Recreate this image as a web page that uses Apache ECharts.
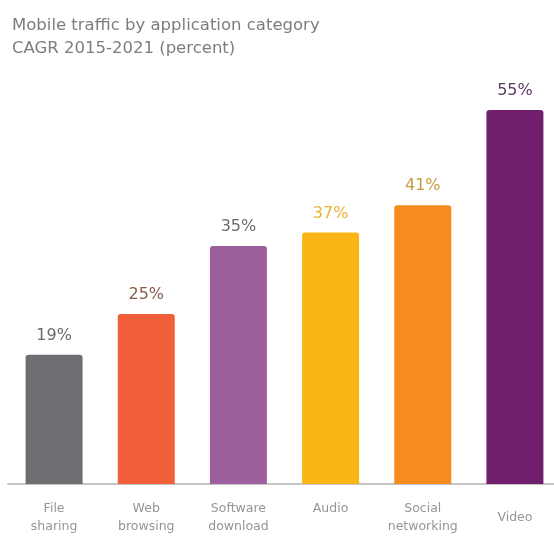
<!DOCTYPE html>
<html>
<head>
<meta charset="utf-8">
<script src="https://cdn.jsdelivr.net/npm/echarts@6/dist/echarts.min.js"></script>
<style>
html,body{margin:0;padding:0;background:#fff;}
#chart{width:554px;height:536px;}
</style>
</head>
<body>
<div id="chart"></div>
<script>
const categories = ['File\nsharing', 'Web\nbrowsing', 'Software\ndownload', 'Audio', 'Social\nnetworking', 'Video'];
const values = [19, 25, 35, 37, 41, 55];
const barColors = ['#6d6e71', '#f15f3a', '#9b5f9e', '#fbb615', '#f68b1f', '#6f1f6b'];
const labelColors = ['#6a6a6a', '#8a5a45', '#6a6a6a', '#e8b530', '#c99a40', '#5e3a62'];

const chart = echarts.init(document.getElementById('chart'));
chart.setOption({
  animation: false,
  backgroundColor: '#fff',
  title: {
    text: 'Mobile traffic by application category',
    subtext: 'CAGR 2015-2021 (percent)',
    left: 7,
    top: 12,
    itemGap: 6,
    textStyle: { fontFamily: 'DejaVu Sans', fontSize: 16.5, fontWeight: 'normal', color: '#7d7d7d' },
    subtextStyle: { fontFamily: 'DejaVu Sans', fontSize: 16.5, color: '#7d7d7d' }
  },
  grid: { left: 8, width: 553, top: 76, height: 408, containLabel: false, outerBoundsMode: 'none' },
  xAxis: {
    type: 'category',
    data: categories.map(c => c === 'Video'
      ? { value: c, textStyle: { padding: [9, 0, 0, 0] } } : c),
    axisLine: { lineStyle: { color: '#c4c4c4', width: 2 } },
    axisTick: { show: false },
    axisLabel: { interval: 0, margin: 16, fontFamily: 'DejaVu Sans', fontSize: 12.5, color: '#959595', lineHeight: 18 }
  },
  yAxis: {
    type: 'value', min: 0, max: 60, show: false, splitLine: { show: false }
  },
  series: [{
    type: 'bar',
    barWidth: 57,
    data: values.map((v, i) => ({
      value: v,
      itemStyle: { color: barColors[i], borderRadius: [3, 3, 0, 0] },
      label: { color: labelColors[i] }
    })),
    label: {
      show: true,
      position: 'top',
      distance: 11,
      formatter: '{c}%',
      fontFamily: 'DejaVu Sans',
      fontSize: 16
    }
  }]
});
</script>
</body>
</html>
